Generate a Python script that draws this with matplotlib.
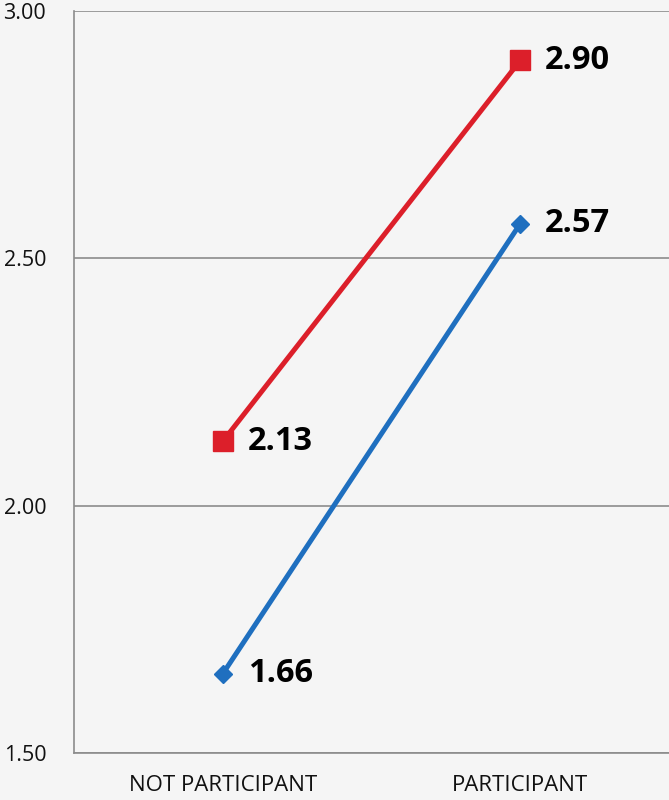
import matplotlib.pyplot as plt

categories = ["NOT PARTICIPANT", "PARTICIPANT"]
red_values = [2.13, 2.90]
blue_values = [1.66, 2.57]
y_ticks = [1.50, 2.00, 2.50, 3.00]

plt.rcParams['font.family'] = ['Open Sans', 'DejaVu Sans']

bg = "#f5f5f5"
red = "#dc1f2a"
blue = "#1f6fbf"

fig = plt.figure(figsize=(6.69, 8), dpi=100, facecolor=bg)
ax = fig.add_axes([74 / 669, 47 / 800, 595 / 669, 742 / 800])
ax.set_facecolor(bg)

x = range(len(categories))
ax.plot(x, red_values, color=red, linewidth=3.6, marker='s', markersize=14.5, zorder=3)
ax.plot(x, blue_values, color=blue, linewidth=3.6, marker='D', markersize=9.5, zorder=3)

for xi, v in zip(x, red_values):
    ax.annotate("%.2f" % v, (xi, v), xytext=(18, 0), textcoords='offset points',
                va='center', ha='left', fontsize=23.5, fontweight='bold')
for xi, v in zip(x, blue_values):
    ax.annotate("%.2f" % v, (xi, v), xytext=(18, 0), textcoords='offset points',
                va='center', ha='left', fontsize=23.5, fontweight='bold')

ax.set_xlim(-0.5, 1.5)
ax.set_ylim(1.5, 3.0)
ax.set_yticks(y_ticks)
ax.set_yticklabels(["%.2f" % t for t in y_ticks])
ax.set_xticks(list(x))
ax.set_xticklabels(categories)
ax.yaxis.grid(True, color="#8c8c8c", linewidth=1.2)
ax.set_axisbelow(True)

for s in ["top", "right"]:
    ax.spines[s].set_visible(False)
for s in ["left", "bottom"]:
    ax.spines[s].set_color("#8c8c8c")
    ax.spines[s].set_linewidth(1.2)

ax.tick_params(length=0, colors="#111111")
ax.tick_params(axis='y', pad=20, labelsize=15.5)
ax.tick_params(axis='x', pad=16, labelsize=16)

fig.savefig("out.png", dpi=100, facecolor=bg)
